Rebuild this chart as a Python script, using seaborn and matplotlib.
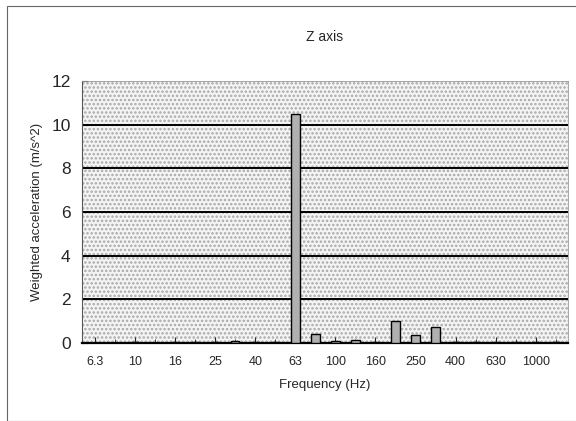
"""Espectro em bandas de 1/3 de oitava - eixo Z."""
import matplotlib.pyplot as plt
import matplotlib.patches as mpatches
import pandas as pd
import seaborn as sns

# bandas de frequência (Hz) e aceleração ponderada (m/s^2)
frequencias = ['6.3', '8', '10', '12.5', '16', '20', '25', '31.5', '40', '50',
               '63', '80', '100', '125', '160', '200', '250', '315', '400',
               '500', '630', '800', '1000', '1250']
aceleracao = [0.02, 0.02, 0.03, 0.02, 0.04, 0.03, 0.06, 0.08, 0.05, 0.04,
              10.5, 0.4, 0.08, 0.12, 0.07, 1.0, 0.35, 0.75, 0.05, 0.05,
              0.06, 0.05, 0.04, 0.03]
rotulos_x = ['6.3', '10', '16', '25', '40', '63', '100', '160', '250', '400',
             '630', '1000']

df = pd.DataFrame({'freq': frequencias, 'acc': aceleracao})

sns.set_style('white')
plt.rcParams['font.family'] = ['Liberation Sans', 'DejaVu Sans']
plt.rcParams['hatch.linewidth'] = 1.2

fig = plt.figure(figsize=(5.76, 4.21), dpi=100)
ax = fig.add_axes([0.142, 0.185, 0.844, 0.623])

# fundo pontilhado do gráfico
ax.set_facecolor('#f4f4f4')
ax.add_patch(mpatches.Rectangle((0, 0), 1, 1, transform=ax.transAxes,
                                facecolor='none', edgecolor='#a8a8a8',
                                hatch='....', linewidth=0, zorder=0))

sns.barplot(data=df, x='freq', y='acc', order=frequencias, ax=ax,
            color='#b0b0b0', edgecolor='black', linewidth=1.0,
            width=0.42, saturation=1, zorder=3)

for y in [2, 4, 6, 8, 10]:
    ax.axhline(y, color='black', linewidth=1.4, zorder=2)

ax.set_ylim(0, 12)
ax.set_xlim(-0.65, 23.6)
ax.set_yticks([0, 2, 4, 6, 8, 10, 12])
ax.set_xticks([frequencias.index(r) for r in rotulos_x])
ax.set_xticklabels(rotulos_x)
ax.tick_params(axis='y', labelsize=12.5, length=4, direction='in', left=True,
               pad=8)
ax.tick_params(axis='x', labelsize=9, length=4, direction='in', bottom=True,
               pad=9)
ax.set_xticks(range(len(frequencias)), minor=True)
ax.tick_params(axis='x', which='minor', length=3, direction='in', bottom=True)

for lado in ['top', 'right']:
    ax.spines[lado].set_color('#9a9a9a')
    ax.spines[lado].set_linewidth(0.6)
ax.spines['left'].set_color('#555555')
ax.spines['bottom'].set_color('black')
ax.spines['bottom'].set_linewidth(1.6)

ax.set_xlabel('Frequency (Hz)', fontsize=9.5, labelpad=8)
ax.set_ylabel('Weighted acceleration (m/s^2)', fontsize=9.5, labelpad=6)
ax.set_title('Z axis', fontsize=10, pad=29)

# moldura da figura
fig.add_artist(mpatches.Rectangle((0.012, 0.0), 0.99, 0.985,
                                  transform=fig.transFigure, fill=False,
                                  edgecolor='#666666', linewidth=0.8))

fig.savefig('out.png', dpi=100)
